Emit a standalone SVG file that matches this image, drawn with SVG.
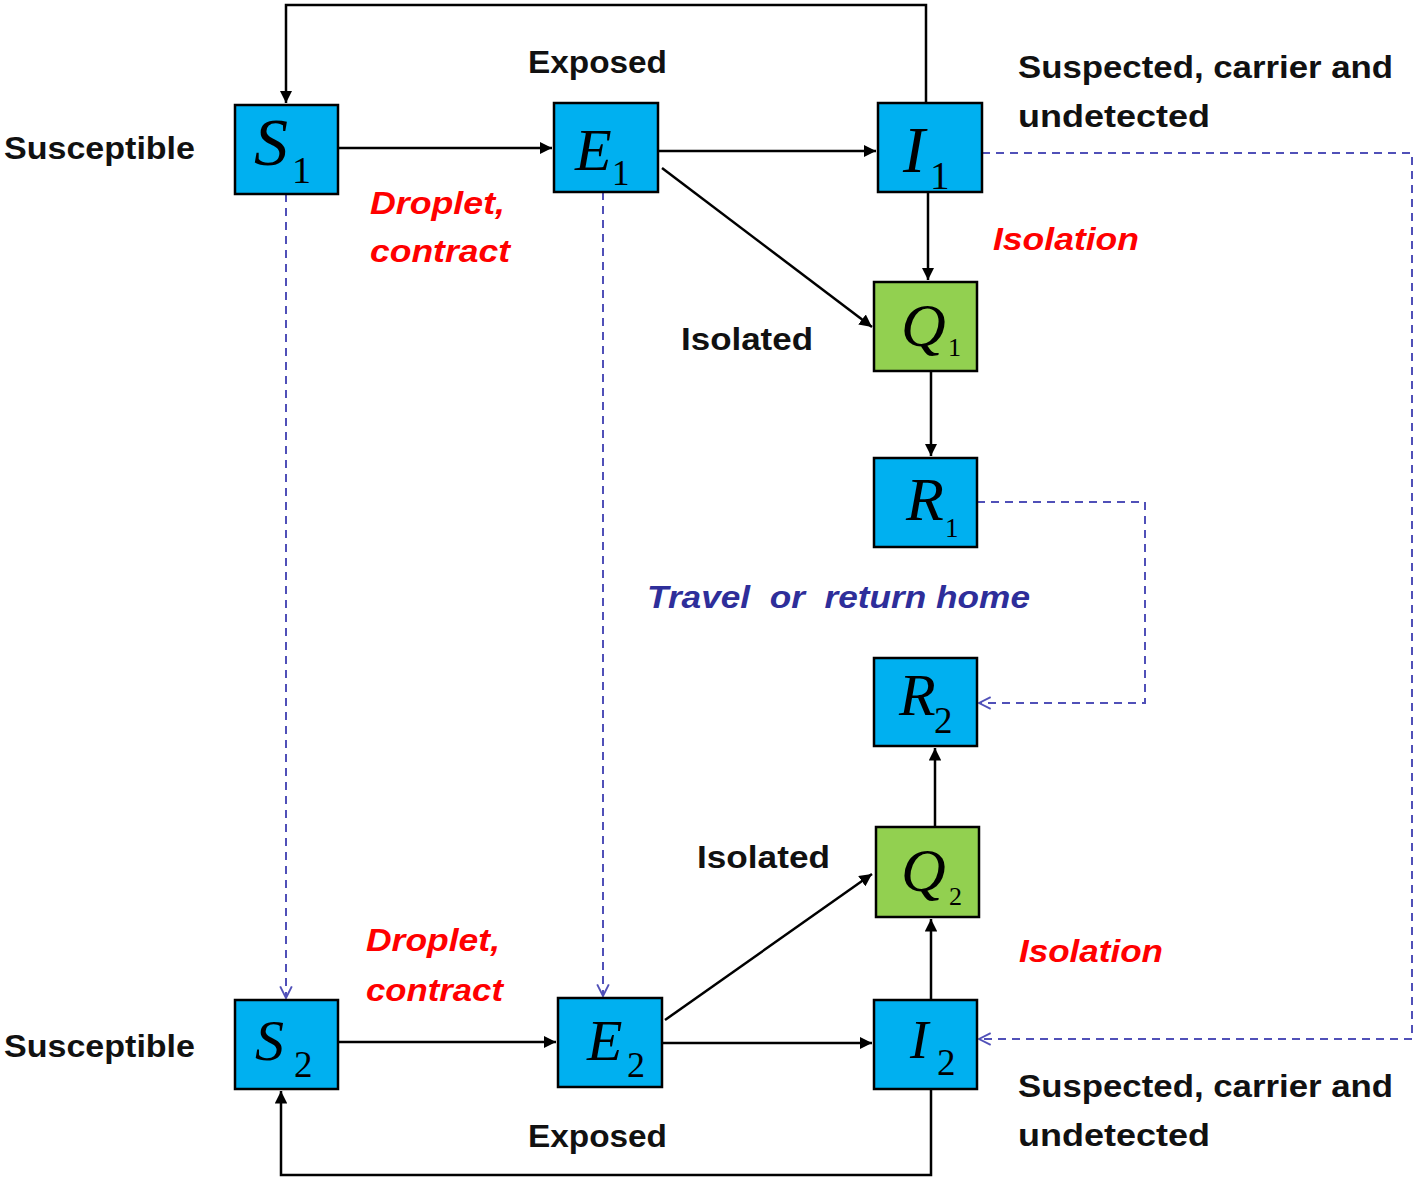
<svg xmlns="http://www.w3.org/2000/svg" width="1418" height="1182" viewBox="0 0 1418 1182">
<style>
.box{stroke:#000;stroke-width:2.5}
.b{fill:#00B0F0}
.g{fill:#92D050}
.v{font-family:"Liberation Serif",serif;font-style:italic;fill:#000}
.sub{font-family:"Liberation Serif",serif;fill:#000}
.lab{font-family:"Liberation Sans",Arial,sans-serif;font-weight:bold;font-size:31px;fill:#111}
.red{font-family:"Liberation Sans",Arial,sans-serif;font-weight:bold;font-style:italic;font-size:31px;fill:#FF0000}
.blu{font-family:"Liberation Sans",Arial,sans-serif;font-weight:bold;font-style:italic;font-size:31px;fill:#2E2E9A}
.s{fill:none;stroke:#000;stroke-width:2.5}
.d{fill:none;stroke:#5050B8;stroke-width:2;stroke-dasharray:8 6}
</style>
<defs>
<marker id="ah" viewBox="0 0 10 10" refX="10" refY="5" markerWidth="5" markerHeight="5" orient="auto" markerUnits="strokeWidth"><path d="M0,0 L10,5 L0,10 z" fill="#000"/></marker>
<marker id="oh" viewBox="0 0 12 12" refX="11" refY="6" markerWidth="7" markerHeight="7" orient="auto" markerUnits="strokeWidth"><path d="M1,1 L11,6 L1,11" fill="none" stroke="#5050B8" stroke-width="1.6"/></marker>
</defs>
<g id="connectors">
<path class="s" d="M926,103 V5 H286 V103" marker-end="url(#ah)"/>
<path class="s" d="M338,148 H552" marker-end="url(#ah)"/>
<path class="s" d="M658,151 H876" marker-end="url(#ah)"/>
<path class="s" d="M662,168 L872,327" marker-end="url(#ah)"/>
<path class="s" d="M928,192 V280" marker-end="url(#ah)"/>
<path class="s" d="M931,371 V456" marker-end="url(#ah)"/>
<path class="d" d="M977,502 H1145 V703 H979" marker-end="url(#oh)"/>
<path class="d" d="M982,153 H1412 V1039 H979" marker-end="url(#oh)"/>
<path class="d" d="M286,194 V998" marker-end="url(#oh)"/>
<path class="d" d="M603,192 V996" marker-end="url(#oh)"/>
<path class="s" d="M338,1042 H556" marker-end="url(#ah)"/>
<path class="s" d="M662,1043 H872" marker-end="url(#ah)"/>
<path class="s" d="M665,1020 L872,874" marker-end="url(#ah)"/>
<path class="s" d="M931,1000 V919" marker-end="url(#ah)"/>
<path class="s" d="M935,827 V748" marker-end="url(#ah)"/>
<path class="s" d="M931,1089 V1175 H281 V1091" marker-end="url(#ah)"/>
</g>
<g id="S1"><rect class="box b" x="235" y="105" width="103" height="89"/><text class="v" x="254" y="165" font-size="68">S</text><text class="sub" x="292" y="183" font-size="38">1</text></g>
<g id="E1"><rect class="box b" x="554" y="103" width="104" height="89"/><text class="v" x="575" y="170" font-size="60">E</text><text class="sub" x="612" y="185" font-size="35">1</text></g>
<g id="I1"><rect class="box b" x="878" y="103" width="104" height="89"/><text class="v" x="903" y="172" font-size="66">I</text><text class="sub" x="930" y="189" font-size="39">1</text></g>
<g id="Q1"><rect class="box g" x="874" y="282" width="103" height="89"/><text class="v" x="901" y="346" font-size="62">Q</text><text class="sub" x="948" y="356" font-size="26">1</text></g>
<g id="R1"><rect class="box b" x="874" y="458" width="103" height="89"/><text class="v" x="906" y="520" font-size="62">R</text><text class="sub" x="945" y="537" font-size="27">1</text></g>
<g id="R2"><rect class="box b" x="874" y="658" width="103" height="88"/><text class="v" x="899" y="715" font-size="60">R</text><text class="sub" x="934" y="733" font-size="37">2</text></g>
<g id="Q2"><rect class="box g" x="876" y="827" width="103" height="90"/><text class="v" x="901" y="891" font-size="62">Q</text><text class="sub" x="949" y="905" font-size="26">2</text></g>
<g id="I2"><rect class="box b" x="874" y="1000" width="103" height="89"/><text class="v" x="910" y="1058" font-size="55">I</text><text class="sub" x="937" y="1075" font-size="37">2</text></g>
<g id="S2"><rect class="box b" x="235" y="1000" width="103" height="89"/><text class="v" x="255" y="1060" font-size="58">S</text><text class="sub" x="294" y="1077" font-size="37">2</text></g>
<g id="E2"><rect class="box b" x="558" y="998" width="104" height="89"/><text class="v" x="587" y="1060" font-size="58">E</text><text class="sub" x="627" y="1077" font-size="36">2</text></g>
<g id="labels">
<text class="lab" x="4" y="159" textLength="191" lengthAdjust="spacingAndGlyphs">Susceptible</text>
<text class="lab" x="528" y="73" textLength="139" lengthAdjust="spacingAndGlyphs">Exposed</text>
<text class="lab" x="1018" y="78" textLength="375" lengthAdjust="spacingAndGlyphs">Suspected, carrier and</text>
<text class="lab" x="1018" y="127" textLength="192" lengthAdjust="spacingAndGlyphs">undetected</text>
<text class="red" x="370" y="214" textLength="135" lengthAdjust="spacingAndGlyphs">Droplet,</text>
<text class="red" x="370" y="262" textLength="140" lengthAdjust="spacingAndGlyphs">contract</text>
<text class="red" x="993" y="250" textLength="146" lengthAdjust="spacingAndGlyphs">Isolation</text>
<text class="lab" x="681" y="350" textLength="132" lengthAdjust="spacingAndGlyphs">Isolated</text>
<text class="blu" x="647" y="608" textLength="383" lengthAdjust="spacingAndGlyphs" xml:space="preserve">Travel  or  return home</text>
<text class="lab" x="697" y="868" textLength="133" lengthAdjust="spacingAndGlyphs">Isolated</text>
<text class="red" x="366" y="951" textLength="134" lengthAdjust="spacingAndGlyphs">Droplet,</text>
<text class="red" x="366" y="1001" textLength="137" lengthAdjust="spacingAndGlyphs">contract</text>
<text class="red" x="1019" y="962" textLength="144" lengthAdjust="spacingAndGlyphs">Isolation</text>
<text class="lab" x="4" y="1057" textLength="191" lengthAdjust="spacingAndGlyphs">Susceptible</text>
<text class="lab" x="1018" y="1097" textLength="375" lengthAdjust="spacingAndGlyphs">Suspected, carrier and</text>
<text class="lab" x="1018" y="1146" textLength="192" lengthAdjust="spacingAndGlyphs">undetected</text>
<text class="lab" x="528" y="1147" textLength="139" lengthAdjust="spacingAndGlyphs">Exposed</text>
</g>
</svg>
